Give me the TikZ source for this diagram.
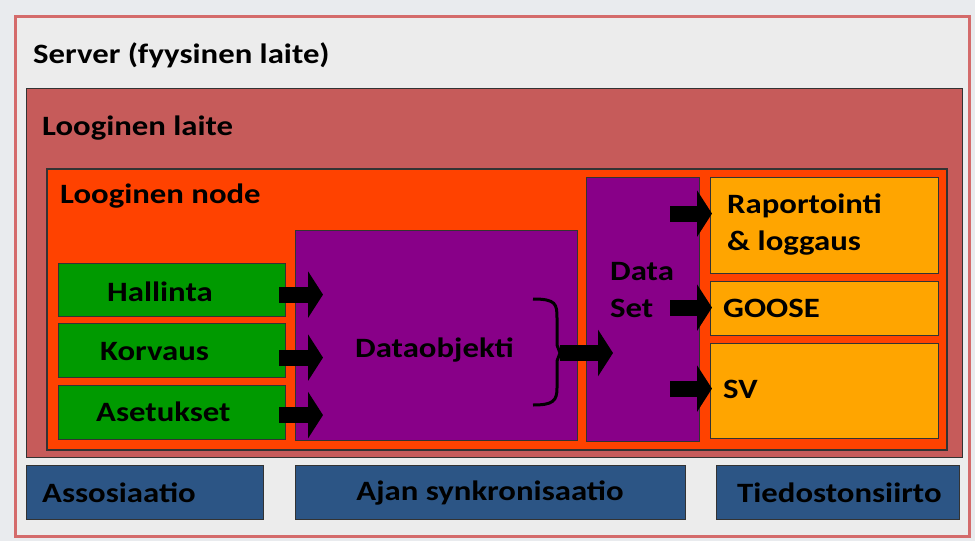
\documentclass[tikz,border=0pt]{standalone}
\usepackage{fontspec}
\setmainfont{Carlito}[FakeStretch=1.17]
\usetikzlibrary{
  arrows.meta,
  positioning,
  calc
}
\definecolor{ieBg}{HTML}{E9EBEE}
\definecolor{ieSrv}{HTML}{ECECEC}
\definecolor{ieSrvEdge}{HTML}{D46B6B}
\definecolor{ieLD}{HTML}{C65B5A}
\definecolor{ieLN}{HTML}{FF4200}
\definecolor{ieFun}{HTML}{009A00}
\definecolor{iePurple}{HTML}{880088}
\definecolor{ieSvc}{HTML}{FFA500}
\definecolor{ieBlue}{HTML}{2C5585}
\tikzset{
  iebox/.style={
    draw=black!80, line width=1.2pt, anchor=north west, inner sep=0pt
  },
  server/.style={iebox, fill=ieSrv, draw=ieSrvEdge, line width=3pt},
  ldevice/.style={iebox, fill=ieLD},
  lnode/.style={iebox, fill=ieLN, line width=1.6pt},
  func/.style={iebox, fill=ieFun, minimum width=227pt},
  dobject/.style={iebox, fill=iePurple},
  service/.style={iebox, fill=ieSvc, minimum width=228pt},
  common/.style={iebox, fill=ieBlue, minimum height=54pt},
  lbl/.style={font=\fontsize{28}{37}\selectfont\bfseries, inner sep=0pt, anchor=base west, align=left},
  blk/.style={line width=16pt, black, -{Triangle[length=15pt,width=46pt]}},
  bracket/.style={line width=3pt, black}
}

\begin{document}
\begin{tikzpicture}[x=1pt, y=-1pt]
  \useasboundingbox (0,0) rectangle (975,541);
  \fill[ieBg] (0,0) rectangle (975,541);

  % containers
  \node[server, minimum width=954pt, minimum height=520pt] (srv) at (14,15) {};
  \node[ldevice, minimum width=936pt, minimum height=369pt] (ld) at (26,88) {};
  \node[lnode, minimum width=900pt, minimum height=281pt] (ln) at (46,168) {};

  % functions
  \node[func, minimum height=53pt] (hal) at (58,263) {};
  \node[func, minimum height=54pt] (kor) at (58,323) {};
  \node[func, minimum height=54pt] (ase) at (58,385) {};
  \node[dobject, minimum width=282pt, minimum height=210pt] (dobj) at (295,230) {};
  \node[dobject, minimum width=113pt, minimum height=264pt] (dset) at (586,177) {};

  % services
  \node[service, minimum height=96pt] (rap) at (710,177) {};
  \node[service, minimum height=54pt] (goose) at (710,281) {};
  \node[service, minimum height=95pt] (sv) at (710,343) {};

  % common services
  \node[common, minimum width=237pt] (asso) at (26,465) {};
  \node[common, minimum width=390pt] (sync) at (295,465) {};
  \node[common, minimum width=243pt] (file) at (716,465) {};

  % labels
  \node[lbl] (srvT) at (33,63) {Server (fyysinen laite)};
  \node[lbl] (ldT) at (42,135) {Looginen laite};
  \node[lbl] (lnT) at (60,203) {Looginen node};
  \node[lbl] (halT) at (107,301) {Hallinta};
  \node[lbl] (korT) at (100,360) {Korvaus};
  \node[lbl] (aseT) at (96,421) {Asetukset};
  \node[lbl] (dobjT) at (355,357) {Dataobjekti};
  \node[lbl] (dsetT) at (610,317) {Data\\Set};
  \node[lbl] (rapT) at (727,250) {Raportointi\\\& loggaus};
  \node[lbl] (gooseT) at (723,317) {GOOSE};
  \node[lbl] (svT) at (723,398) {SV};
  \node[lbl] (assoT) at (42,502) {Assosiaatio};
  \node[lbl, anchor=base] (syncT) at (490,500) {Ajan synkronisaatio};
  \node[lbl] (fileT) at (737,502) {Tiedostonsiirto};

  % arrows into the data object
  \draw[blk] ([xshift=-7pt,yshift=-4.5pt]hal.east) -- ([xshift=28pt,yshift=-4.5pt]hal.east -| dobj.west);
  \draw[blk] ([xshift=-7pt,yshift=-7pt]kor.east) -- ([xshift=28pt,yshift=-7pt]kor.east -| dobj.west);
  \draw[blk] ([xshift=-7pt,yshift=-2.5pt]ase.east) -- ([xshift=28pt,yshift=-2.5pt]ase.east -| dobj.west);

  % brace and data set
  \coordinate (brtop) at (533,299);
  \coordinate (brbot) at (533,405);
  \coordinate (brtip) at (560,353);
  \draw[bracket] (brtop) .. controls (556,299) and (557,304) .. (557,318)
    -- (557,345) -- (brtip) -- (557,361) -- (557,388)
    .. controls (557,401) and (553,405) .. (brbot);
  \draw[blk] (brtip) -- ([xshift=27pt]brtip -| dset.west);

  % data set to services
  \draw[blk] ([xshift=-30pt,yshift=12pt]rap.west -| dset.east) -- ([xshift=2pt,yshift=12pt]rap.west);
  \draw[blk] ([xshift=-30pt,yshift=1pt]goose.west -| dset.east) -- ([xshift=2pt,yshift=1pt]goose.west);
  \draw[blk] ([xshift=-30pt,yshift=2.5pt]sv.west -| dset.east) -- ([xshift=2pt,yshift=2.5pt]sv.west);
\end{tikzpicture}
\end{document}
